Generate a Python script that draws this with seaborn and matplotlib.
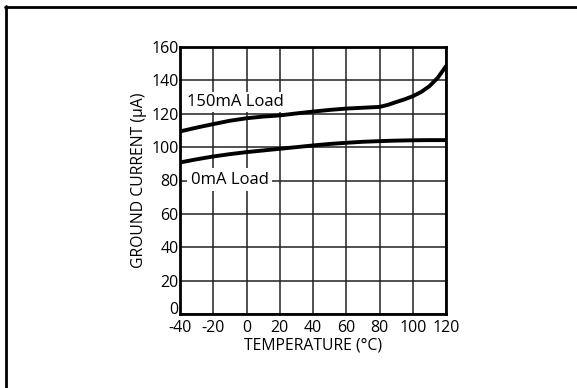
import matplotlib
matplotlib.use("Agg")
import matplotlib.pyplot as plt
import seaborn as sns
import pandas as pd
from matplotlib.lines import Line2D

temp_150 = [-40, -30, -20, -10, 0, 10, 20, 30, 40, 50, 60, 70, 80, 85, 90, 95, 100, 105, 110, 115, 120]
cur_150 = [109.4, 111.7, 113.8, 115.8, 117.3, 118.3, 119.0, 120.2, 121.3, 122.3, 123.1, 123.6, 124.1, 125.3, 127.0, 128.6, 130.5, 133.0, 136.5, 141.5, 148.5]

temp_0 = [-40, -30, -20, -10, 0, 10, 20, 30, 40, 50, 60, 70, 80, 90, 100, 110, 120]
cur_0 = [90.8, 92.7, 94.4, 95.8, 97.0, 98.0, 99.0, 100.0, 101.0, 101.9, 102.6, 103.2, 103.6, 103.9, 104.1, 104.2, 104.2]

x_ticks = [-40, -20, 0, 20, 40, 60, 80, 100, 120]
y_ticks = [0, 20, 40, 60, 80, 100, 120, 140, 160]
series_labels = ["150mA Load", "0mA Load"]

df = pd.concat([
    pd.DataFrame({"temp": temp_150, "cur": cur_150, "series": series_labels[0]}),
    pd.DataFrame({"temp": temp_0, "cur": cur_0, "series": series_labels[1]}),
])

sns.set_style("white")
plt.rcParams["font.family"] = ["Open Sans", "DejaVu Sans"]
plt.rcParams["text.color"] = "black"
plt.rcParams["axes.labelcolor"] = "black"
plt.rcParams["xtick.color"] = "black"
plt.rcParams["ytick.color"] = "black"

fig = plt.figure(figsize=(5.77, 3.88), dpi=100)
ax = fig.add_axes([180 / 577, 1 - 314 / 388, 266 / 577, 267 / 388])

sns.lineplot(data=df, x="temp", y="cur", hue="series", palette=["black", "black"],
             linewidth=2.8, legend=False, ax=ax, sort=True, estimator=None)

ax.set_xlim(-40, 120)
ax.set_ylim(0, 160)
ax.set_xticks(x_ticks)
ax.set_yticks(y_ticks)
ax.set_xticklabels([str(v) for v in x_ticks])
ax.set_yticklabels([str(v) for v in y_ticks])
ax.grid(True, color="#222222", linewidth=1.1)
ax.set_axisbelow(True)
for s in ax.spines.values():
    s.set_color("black")
    s.set_linewidth(2)
ax.tick_params(axis="both", length=0, labelsize=11.5, labelcolor="black")
ax.tick_params(axis="x", pad=4)
ax.tick_params(axis="y", pad=1)
ylabels = ax.get_yticklabels()
ylabels[0].set_va("baseline")
ax.set_xlabel("TEMPERATURE (°C)", fontsize=11.3, labelpad=1.5, color="black")
ax.set_ylabel("GROUND CURRENT (µA)", fontsize=11.3, labelpad=3, color="black")

ax.text(-35.5, 126.8, series_labels[0], fontsize=12, va="center", ha="left", color="black",
        bbox=dict(facecolor="white", edgecolor="none", pad=1.5), zorder=3)
ax.text(-33.5, 80.5, series_labels[1], fontsize=12, va="center", ha="left", color="black",
        bbox=dict(facecolor="white", edgecolor="none", pad=2.5), zorder=3)

# figure frame: top and left edges
fig.add_artist(Line2D([6 / 577, 6 / 577], [0, 1 - 6 / 388], transform=fig.transFigure,
                      color="black", linewidth=2))
fig.add_artist(Line2D([5 / 577, 1], [1 - 7 / 388, 1 - 7 / 388], transform=fig.transFigure,
                      color="black", linewidth=2))

fig.savefig("out.png", dpi=100)
